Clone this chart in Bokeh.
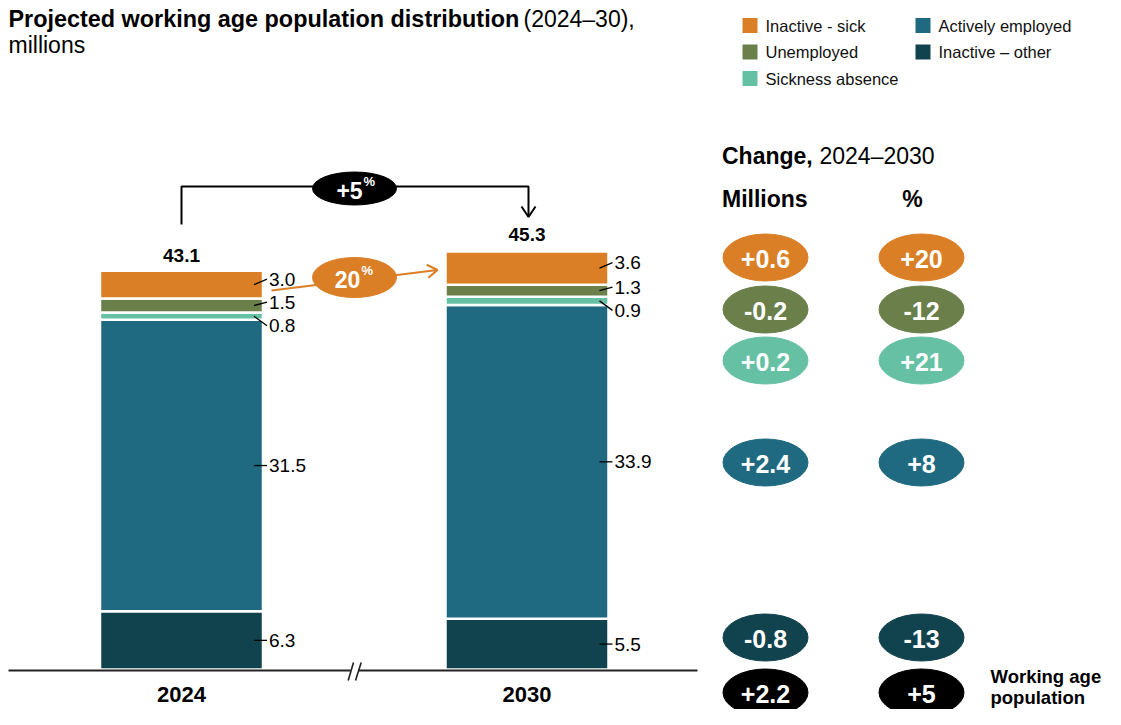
import numpy as np
from bokeh.plotting import figure
from bokeh.models import Range1d
from bokeh.core.properties import value
from bokeh.embed import file_html
from bokeh.resources import INLINE

# ---------------- data ----------------
years = ["2024", "2030"]
inactive_other = [6.3, 5.5]
actively_employed = [31.5, 33.9]
sickness_absence = [0.8, 0.9]
unemployed = [1.5, 1.3]
inactive_sick = [3.0, 3.6]
totals = [43.1, 45.3]
total_growth_pct = "+5"
inactive_sick_growth_pct = "20"
change_millions = ["+0.6", "-0.2", "+0.2", "+2.4", "-0.8", "+2.2"]
change_pct = ["+20", "-12", "+21", "+8", "-13", "+5"]
legend_labels = ["Inactive - sick", "Unemployed", "Sickness absence",
                 "Actively employed", "Inactive \u2013 other"]

# ---------------- style / layout ----------------
FONT = value("Liberation Sans")
ORANGE = "#DB7F27"
OLIVE = "#6A7F4A"
MINT = "#66C1A4"
BLUE = "#1F6A80"
DARK = "#11434E"
BLACK = "#000000"

SCALE = 9.25      # px per million
BASE_PY = 672     # layout y of zero
W, H = 1105, 709
OFF_X, OFF_Y = 0, 3

y0 = (BASE_PY - (OFF_Y + H)) / SCALE
y1 = (BASE_PY - OFF_Y) / SCALE

p = figure(width=W, height=H, x_range=Range1d(OFF_X, OFF_X + W),
           y_range=Range1d(y0, y1), output_backend="svg",
           toolbar_location=None, min_border=0,
           x_axis_location=None, y_axis_location=None)
p.grid.visible = False
p.outline_line_color = None
p.background_fill_color = "white"
p.border_fill_color = "white"
p.extra_y_ranges = {"px": Range1d(start=OFF_Y + H, end=OFF_Y)}


def txt(x, y, t, size, bold=False, color="black", align="left", baseline="middle"):
    xs = x if isinstance(x, list) else [x]
    ys = y if isinstance(y, list) else [y]
    ts = t if isinstance(t, list) else [t]
    p.text(x=xs, y=ys, text=ts, y_range_name="px", text_font=FONT,
           text_font_size=size, text_font_style="bold" if bold else "normal",
           text_color=color, text_align=align, text_baseline=baseline)


# ---------------- stacked bars ----------------
BAR_X = [181.0, 526.5]
BAR_W = 163.0
stack = [inactive_other, actively_employed, sickness_absence, unemployed, inactive_sick]
colors = [DARK, BLUE, MINT, OLIVE, ORANGE]
label_shift_px = [0.0, 0.0, 9.5, -3.5, -5.5]   # positive = downward

cum = np.zeros(len(years))
for vals, col, shift in zip(stack, colors, label_shift_px):
    vals = np.array(vals)
    bottom = cum.copy()
    top = cum + vals
    p.vbar(x=BAR_X, width=BAR_W, bottom=bottom, top=top,
           fill_color=col, line_color="white", line_width=2.5)
    mid = (bottom + top) / 2
    ly = mid - shift / SCALE
    right = np.array(BAR_X) + BAR_W / 2
    p.segment(x0=right - 9, y0=mid, x1=right + 4, y1=ly, line_color="black", line_width=1.3)
    p.text(x=list(right + 6), y=list(ly), text=[f"{v:.1f}" for v in vals],
           text_font=FONT, text_font_size="19px", text_align="left",
           text_baseline="middle", text_color="black")
    cum = top

# totals above bars
p.text(x=BAR_X, y=[t + 15.5 / SCALE for t in totals], text=[f"{t:.1f}" for t in totals],
       text_font=FONT, text_font_size="19px", text_font_style="bold",
       text_align="center", text_baseline="middle", text_color="black")

# year labels
txt(BAR_X, [697, 697], years, "22px", bold=True, align="center")

# axis baseline with break
p.line(x=[8, 350], y=[673, 673], y_range_name="px", line_color="#222222", line_width=2)
p.line(x=[357.5, 697], y=[673, 673], y_range_name="px", line_color="#222222", line_width=2)
p.segment(x0=[347.7, 355.0], y0=[683, 683], x1=[353.0, 360.7], y1=[665, 665],
          y_range_name="px", line_color="#222222", line_width=1.6)

# ---------------- total growth bracket ----------------
p.line(x=[181, 181, 528, 528], y=[227, 189, 189, 219], y_range_name="px",
       line_color="black", line_width=2)
p.line(x=[521, 528, 535], y=[209, 219.5, 209], y_range_name="px",
       line_color="black", line_width=2)
p.ellipse(x=[354], y=[191], width=84, height=33, width_units="screen",
          height_units="screen", y_range_name="px", fill_color=BLACK, line_color=BLACK)
txt(349, 193, total_growth_pct, "23px", bold=True, color="white", align="center")
txt(363, 184, "%", "13px", bold=True, color="white", align="left")

# ---------------- inactive-sick growth arrow ----------------
ax0, ay0, ax1, ay1 = 271.0, 293.0, 437.0, 272.5
p.line(x=[ax0, ax1], y=[ay0, ay1], y_range_name="px", line_color=ORANGE, line_width=2.2)
d = np.array([ax0 - ax1, ay0 - ay1])
d = d / np.hypot(*d)
arms = []
for ang in (np.radians(33), -np.radians(33)):
    r = np.array([[np.cos(ang), -np.sin(ang)], [np.sin(ang), np.cos(ang)]]) @ d
    arms.append((ax1 + 12 * r[0], ay1 + 12 * r[1]))
p.line(x=[arms[0][0], ax1, arms[1][0]], y=[arms[0][1], ay1, arms[1][1]],
       y_range_name="px", line_color=ORANGE, line_width=2.2)
p.ellipse(x=[354], y=[280], width=84, height=40, width_units="screen",
          height_units="screen", y_range_name="px", fill_color=ORANGE, line_color=ORANGE)
txt(347, 282, inactive_sick_growth_pct, "23px", bold=True, color="white", align="center")
txt(361, 273, "%", "13px", bold=True, color="white", align="left")

# ---------------- title ----------------
txt(8, 21, "Projected working age population distribution", "23.4px", bold=True)
txt(523, 21, "(2024\u201330),", "23px")
txt(8, 47, "millions", "23px")

# ---------------- legend ----------------
leg_colors = [ORANGE, OLIVE, MINT, BLUE, DARK]
leg_x = [749.5, 749.5, 749.5, 922.5, 922.5]
leg_y = [28, 54.5, 81, 28, 54.5]
p.scatter(x=leg_x, y=leg_y, marker="square", size=15, fill_color=leg_colors,
          line_color=None, y_range_name="px")
txt([x + 15.5 for x in leg_x], leg_y, legend_labels, "16.5px", color="#111111")

# ---------------- change panel ----------------
txt(721.5, 158, "Change,", "23px", bold=True)
txt(819, 158, "2024\u20132030", "23px")
txt(721.5, 201, "Millions", "23px", bold=True)
txt(912, 201, "%", "23px", bold=True, align="center")

row_y = [260, 312, 363, 465, 640, 695]
row_col = [ORANGE, OLIVE, MINT, BLUE, DARK, BLACK]
for cx, labels in ((765, change_millions), (921, change_pct)):
    p.ellipse(x=[cx] * len(row_y), y=row_y, width=85, height=47,
              width_units="screen", height_units="screen", y_range_name="px",
              fill_color=row_col, line_color=row_col)
    txt([cx] * len(row_y), [y + 1 for y in row_y], labels, "25px", bold=True,
        color="white", align="center")

txt(990, 679, "Working age", "18.5px", bold=True)
txt(990, 700, "population", "18.5px", bold=True)

open("out.html", "w").write(file_html(p, INLINE))
